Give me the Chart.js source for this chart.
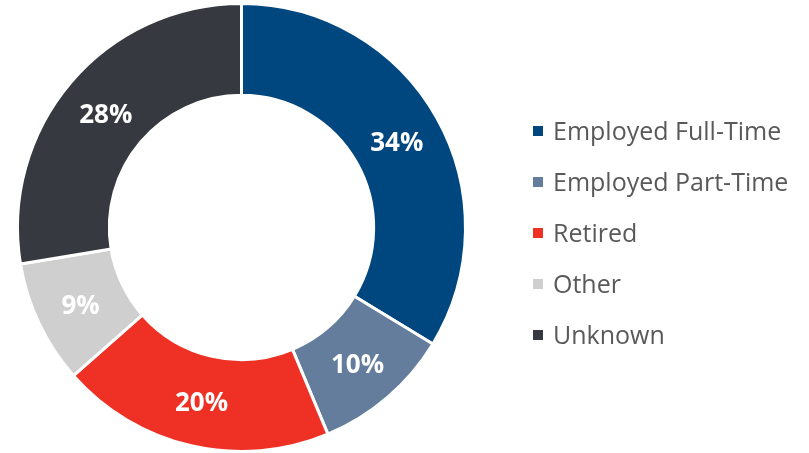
<!DOCTYPE html>
<html>
<head>
<meta charset="utf-8">
<script src="https://cdn.jsdelivr.net/npm/chart.js@4/dist/chart.umd.min.js"></script>
<style>
  html, body { margin: 0; padding: 0; background: #ffffff; }
  #wrap { position: relative; width: 809px; height: 453px; }
</style>
</head>
<body>
<div id="wrap"><canvas id="c" width="809" height="453"></canvas></div>
<script>
const categories = ["Employed Full-Time", "Employed Part-Time", "Retired", "Other", "Unknown"];
const shares = [33.7, 10.0, 19.8, 8.9, 27.6];
const shareLabels = ["34%", "10%", "20%", "9%", "28%"];
const colors = ["#00467f", "#647d9c", "#ee3124", "#d0cfd0", "#363a40"];

const FONT = "'Open Sans', Lato, sans-serif";

const sliceLabels = {
  id: 'sliceLabels',
  afterDatasetsDraw(chart) {
    const ctx = chart.ctx;
    const meta = chart.getDatasetMeta(0);
    ctx.save();
    ctx.fillStyle = '#ffffff';
    ctx.font = "bold 26px " + FONT;
    ctx.textAlign = 'center';
    ctx.textBaseline = 'middle';
    meta.data.forEach((arc, i) => {
      const p = arc.getProps(['x','y','startAngle','endAngle','innerRadius','outerRadius'], true);
      const a = (p.startAngle + p.endAngle) / 2;
      const r = (p.innerRadius + p.outerRadius) / 2;
      ctx.fillText(shareLabels[i], p.x + Math.cos(a) * r, p.y + Math.sin(a) * r + 3);
    });
    ctx.restore();
  }
};

const sideLegend = {
  id: 'sideLegend',
  afterDraw(chart) {
    const ctx = chart.ctx;
    ctx.save();
    ctx.font = "25px " + FONT;
    ctx.textBaseline = 'middle';
    ctx.textAlign = 'left';
    const x0 = 533, y0 = 131, step = 51;
    chart.data.labels.forEach((lab, i) => {
      const y = y0 + i * step;
      ctx.fillStyle = colors[i];
      ctx.fillRect(x0, y - 5, 10, 10);
      ctx.fillStyle = '#595959';
      ctx.fillText(lab, x0 + 20, y + 2);
    });
    ctx.restore();
  }
};

new Chart(document.getElementById('c'), {
  type: 'doughnut',
  data: {
    labels: categories,
    datasets: [{
      data: shares,
      backgroundColor: colors,
      borderColor: '#ffffff',
      borderWidth: 3
    }]
  },
  options: {
    responsive: false,
    animation: false,
    cutout: '59%',
    layout: { padding: { left: 16, right: 342, top: 2, bottom: 0 } },
    plugins: {
      legend: { display: false },
      tooltip: { enabled: false }
    }
  },
  plugins: [sliceLabels, sideLegend]
});
</script>
</body>
</html>
